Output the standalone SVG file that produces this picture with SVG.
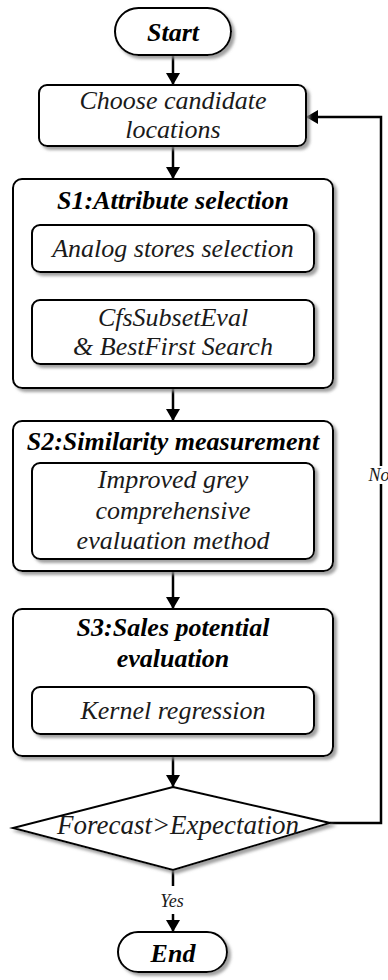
<svg xmlns="http://www.w3.org/2000/svg" width="388" height="980" viewBox="0 0 388 980">
<defs>
<filter id="sh" x="-10%" y="-10%" width="130%" height="140%">
<feDropShadow dx="3" dy="3" stdDeviation="1.5" flood-color="#8a8a8a" flood-opacity="0.8"/>
</filter>
<marker id="ah" markerUnits="userSpaceOnUse" markerWidth="12" markerHeight="14" refX="12" refY="7" orient="auto">
<path d="M0,0 L12,7 L0,14 Z" fill="#000"/>
</marker>
<marker id="ahs" markerUnits="userSpaceOnUse" markerWidth="9" markerHeight="10" refX="9" refY="5" orient="auto">
<path d="M0,0 L9,5 L0,10 Z" fill="#000"/>
</marker>
</defs>
<style>
.box{fill:#fff;stroke:#000;stroke-width:2;filter:url(#sh)}
.t{font-family:'Liberation Serif',serif;font-style:italic;font-size:26px;fill:#1a1a1a;text-anchor:middle}
.b{font-weight:bold;fill:#000}
.c{fill:none;stroke:#000;stroke-width:2.5}
.cs{fill:none;stroke:#000;stroke-width:1.5}
.lbl{font-family:'Liberation Serif',serif;font-style:italic;font-size:18px;fill:#1a1a1a;text-anchor:middle}
</style>
<rect width="388" height="980" fill="#fff"/>
<g id="connectors">
<path class="c" d="M173,55 V85" marker-end="url(#ah)"/>
<path class="c" d="M173,146 V179" marker-end="url(#ah)"/>
<path class="cs" d="M173,272 V300" marker-end="url(#ahs)"/>
<path class="c" d="M173,388 V421" marker-end="url(#ah)"/>
<path class="c" d="M173,571 V609" marker-end="url(#ah)"/>
<path class="c" d="M173,756 V787" marker-end="url(#ah)"/>
<path class="c" d="M173,870 V886"/>
<path class="c" d="M173,914 V932" marker-end="url(#ah)"/>
<text class="lbl" x="172" y="907">Yes</text>
<path class="c" d="M330,823 H381 V484"/>
<path class="c" d="M381,466 V117 H306" marker-end="url(#ah)"/>
<text class="lbl" x="379" y="481">No</text>
</g>
<g id="start">
<rect class="box" x="115" y="8" width="116" height="47" rx="23.5"/>
<text class="t b" x="173" y="41">Start</text>
</g>
<g id="choose">
<rect class="box" x="39" y="85" width="267" height="61" rx="8"/>
<text class="t" x="173" y="109">Choose candidate</text>
<text class="t" x="173" y="138">locations</text>
</g>
<g id="s1">
<rect class="box" x="13" y="179" width="320" height="209" rx="9"/>
<text class="t b" x="173" y="209">S1:Attribute selection</text>
</g>
<g id="analog">
<rect class="box" x="32" y="225" width="282" height="47" rx="8"/>
<text class="t" x="173" y="257">Analog stores selection</text>
</g>
<g id="cfs">
<rect class="box" x="32" y="300" width="282" height="64" rx="8"/>
<text class="t" x="173" y="326">CfsSubsetEval</text>
<text class="t" x="173" y="355">&amp; BestFirst Search</text>
</g>
<g id="s2">
<rect class="box" x="13" y="421" width="320" height="150" rx="9"/>
<text class="t b" x="173" y="450">S2:Similarity measurement</text>
</g>
<g id="grey">
<rect class="box" x="32" y="463" width="282" height="96" rx="8"/>
<text class="t" x="173" y="488">Improved grey</text>
<text class="t" x="173" y="519">comprehensive</text>
<text class="t" x="173" y="549">evaluation method</text>
</g>
<g id="s3">
<rect class="box" x="13" y="609" width="320" height="147" rx="9"/>
<text class="t b" x="173" y="636">S3:Sales potential</text>
<text class="t b" x="173" y="667">evaluation</text>
</g>
<g id="kernel">
<rect class="box" x="32" y="687" width="282" height="47" rx="8"/>
<text class="t" x="173" y="719">Kernel regression</text>
</g>
<g id="decision">
<path class="box" d="M173,787 L330,823 L173,870 L13,828 Z"/>
<text class="t" x="178" y="834" style="font-size:27px">Forecast&gt;Expectation</text>
</g>
<g id="end">
<rect class="box" x="118" y="932" width="109" height="40" rx="20"/>
<text class="t b" x="173" y="962">End</text>
</g>
</svg>
